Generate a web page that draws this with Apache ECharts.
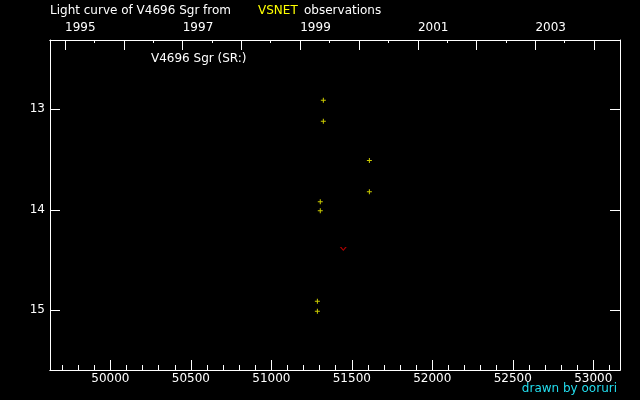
<!DOCTYPE html>
<html>
<head>
<meta charset="utf-8">
<script src="https://cdn.jsdelivr.net/npm/echarts@6/dist/echarts.min.js"></script>
<style>
html,body{margin:0;padding:0;background:#000;}
#c{width:640px;height:400px;}
</style>
</head>
<body>
<div id="c"></div>
<script>
// Observations (JD - 2400000, visual magnitude)
var obsJd  = [51323, 51323, 51609, 51609, 51304, 51304, 51286, 51286];
var obsMag = [12.91, 13.12, 13.51, 13.82, 13.92, 14.01, 14.91, 15.01];
// Fainter-than observations
var limJd  = [51447];
var limMag = [14.39];
// Axis ticks
var magTicks = [13, 14, 15];
var jdMajorTicks = [50000, 50500, 51000, 51500, 52000, 52500, 53000];
var jdMinorStep = 100;
var yearTicks = [1995, 1996, 1997, 1998, 1999, 2000, 2001, 2002, 2003, 2004];
var yearLabels = [1995, 1997, 1999, 2001, 2003];

var X_MIN = 49625, X_MAX = 53166;
var Y_MIN = 12.31, Y_MAX = 15.595;

function jdOf(y, m) { return Date.UTC(y, m, 1) / 86400000 + 40587.5; }
function yearOf(v) { return new Date((v - 40587.5) * 86400000 + 3600000).getUTCFullYear(); }

var minorJd = [];
for (var v = Math.ceil(X_MIN / jdMinorStep) * jdMinorStep; v <= X_MAX; v += jdMinorStep) minorJd.push(v);
var yearJd = yearTicks.map(function (y) { return jdOf(y, 0); }).filter(function (v) { return v >= X_MIN && v <= X_MAX; });
var halfJd = yearTicks.map(function (y) { return jdOf(y, 6); }).filter(function (v) { return v >= X_MIN && v <= X_MAX; });
var yearLabelJd = yearLabels.map(function (y) { return jdOf(y, 0); });

var FONT = 'DejaVu Sans';
var W = '#ffffff';

function xAx(pos, ticks, len, labels, extra) {
  var a = {
    type: 'value', position: pos, min: X_MIN, max: X_MAX,
    axisLine: { show: true, lineStyle: { color: W, width: 1 } },
    axisTick: { show: true, inside: true, length: len, customValues: ticks, lineStyle: { color: W, width: 1 } },
    splitLine: { show: false },
    axisLabel: { show: false }
  };
  if (labels) {
    a.axisLabel = Object.assign({ show: true, customValues: labels, color: W, fontFamily: FONT, fontSize: 12 }, extra);
  }
  return a;
}

var chart = echarts.init(document.getElementById('c'), null, { renderer: 'canvas' });
chart.setOption({
  backgroundColor: '#000000',
  animation: false,
  grid: { left: 50, right: 20, top: 40, bottom: 30, show: false },
  xAxis: [
    xAx('bottom', jdMajorTicks, 10, jdMajorTicks, { margin: 3, formatter: function (v) { return String(v); } }),
    xAx('bottom', minorJd, 5),
    xAx('top', yearJd, 10, yearLabelJd, { margin: 6, align: 'left', formatter: function (v) { return String(yearOf(v)); } }),
    xAx('top', halfJd, 3)
  ],
  yAxis: [
    {
      type: 'value', position: 'left', inverse: true, min: Y_MIN, max: Y_MAX,
      axisLine: { show: true, lineStyle: { color: W } },
      axisTick: { show: true, inside: true, length: 10, customValues: magTicks, lineStyle: { color: W } },
      axisLabel: { show: true, customValues: magTicks, color: W, fontFamily: FONT, fontSize: 12, margin: 5 },
      splitLine: { show: false }
    },
    {
      type: 'value', position: 'right', inverse: true, min: Y_MIN, max: Y_MAX,
      axisLine: { show: true, lineStyle: { color: W } },
      axisTick: { show: true, inside: true, length: 10, customValues: magTicks, lineStyle: { color: W } },
      axisLabel: { show: false },
      splitLine: { show: false }
    }
  ],
  series: [
    {
      type: 'scatter', xAxisIndex: 0, yAxisIndex: 0,
      data: obsJd.map(function (x, i) { return [x, obsMag[i]]; }),
      symbol: 'path://M2,0H3V2H5V3H3V5H2V3H0V2H2Z', symbolSize: 5,
      itemStyle: { color: '#ffff00' }
    },
    {
      type: 'scatter', xAxisIndex: 0, yAxisIndex: 0,
      data: limJd.map(function (x, i) { return [x, limMag[i]]; }),
      symbol: 'path://M0,0H1.4L3,2L4.6,0H6L3,3.2Z', symbolSize: [7, 4],
      itemStyle: { color: '#dd0000' }
    }
  ],
  graphic: [
    { type: 'text', left: 50, top: 5, style: { text: 'Light curve of V4696 Sgr from', fill: W, font: '12px "DejaVu Sans"' } },
    { type: 'text', left: 258, top: 5, style: { text: 'VSNET', fill: '#ffff00', font: '12px "DejaVu Sans"' } },
    { type: 'text', left: 304, top: 5, style: { text: 'observations', fill: W, font: '12px "DejaVu Sans"' } },
    { type: 'text', left: 151, top: 53, style: { text: 'V4696 Sgr (SR:)', fill: W, font: '12px "DejaVu Sans"' } },
    { type: 'text', right: 23, top: 383, style: { text: 'drawn by ooruri', fill: '#22ddee', font: '12px "DejaVu Sans"' } }
  ]
});
</script>
</body>
</html>
